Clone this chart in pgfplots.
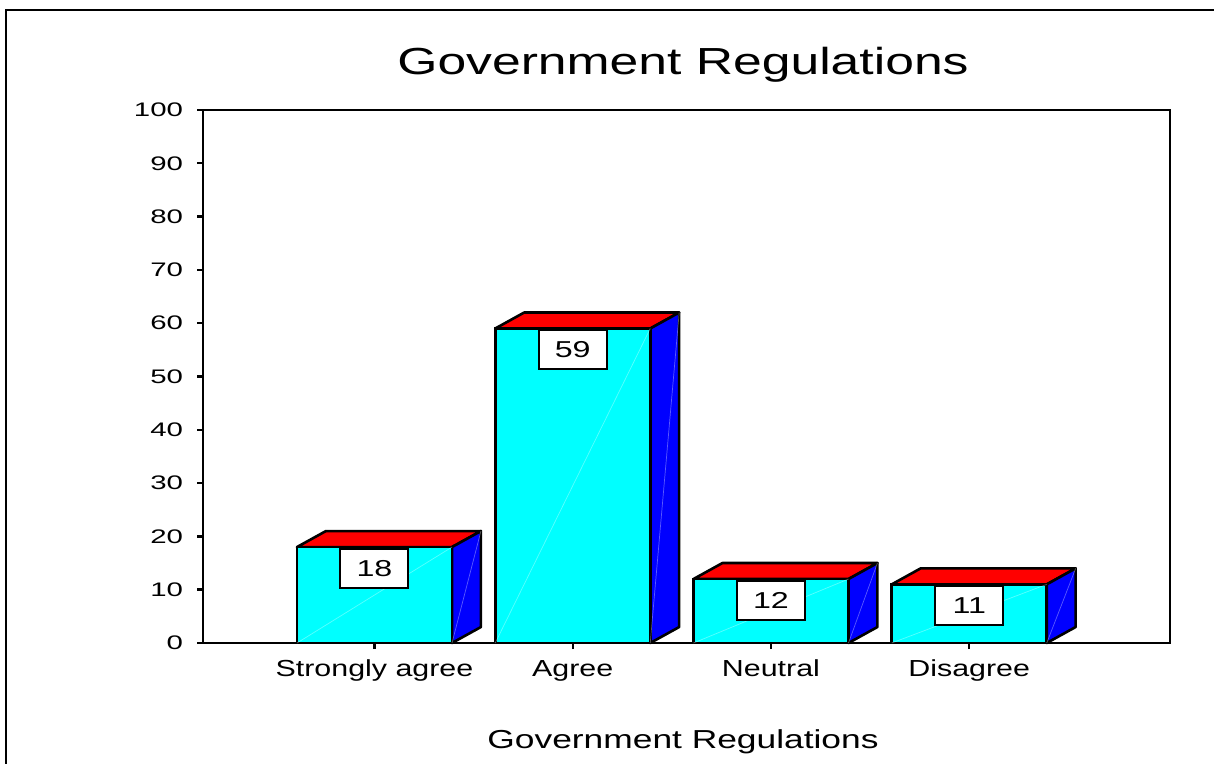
\documentclass[border=0pt]{standalone}
\usepackage{pgfplots}
\pgfplotsset{compat=1.18}
\usepackage{fontspec}
\setmainfont{Liberation Sans}
\definecolor{cyanf}{RGB}{0,255,255}
\definecolor{redf}{RGB}{255,0,0}
\definecolor{bluef}{RGB}{0,0,255}
\begin{document}
\begin{tikzpicture}[x=0.5bp,y=0.5bp]
\useasboundingbox (0,0) rectangle (1214,763);
\draw[line width=1bp] (6,-5) -- (6,753) -- (1220,753);
\node[anchor=base, inner sep=0pt, font=\fontsize{18.85bp}{20bp}\selectfont] at (683,688) {\scalebox{1.37}[1]{Government Regulations}};
\node[anchor=base, inner sep=0pt, font=\fontsize{13bp}{15bp}\selectfont] at (683,15) {\scalebox{1.36}[1]{Government Regulations}};
\begin{axis}[
  at={(101.5bp,60bp)}, anchor=south west,
  scale only axis, width=483.5bp, height=266.5bp,
  xmin=-0.865, xmax=4.013, ymin=0, ymax=100,
  axis line style={line width=1.2bp, black},
  tick align=outside, tick pos=left,
  major tick length=3bp,
  tick style={line width=1.2bp, black},
  xtick={0,1,2,3},
  xticklabels={{\scalebox{1.31}[1]{Strongly agree}},{\scalebox{1.31}[1]{Agree}},{\scalebox{1.31}[1]{Neutral}},{\scalebox{1.31}[1]{Disagree}}},
  xticklabel style={font=\fontsize{11.6bp}{13bp}\selectfont, yshift=-2bp},
  ytick={0,10,...,100},
  yticklabel={\scalebox{1.5}[1]{\pgfmathprintnumber[assume math mode=true]{\tick}}},
  yticklabel style={font=\fontsize{9.8bp}{11bp}\selectfont, xshift=-3.5bp},
  clip=false,
]
% top faces
\addplot[fill=redf, draw=black, line width=1.3bp, line join=round] coordinates {(-0.391,18) (-0.245,21) (0.537,21) (0.391,18)} -- cycle;
\addplot[fill=redf, draw=black, line width=1.3bp, line join=round] coordinates {(0.609,59) (0.755,62) (1.537,62) (1.391,59)} -- cycle;
\addplot[fill=redf, draw=black, line width=1.3bp, line join=round] coordinates {(1.609,12) (1.755,15) (2.537,15) (2.391,12)} -- cycle;
\addplot[fill=redf, draw=black, line width=1.3bp, line join=round] coordinates {(2.609,11) (2.755,14) (3.537,14) (3.391,11)} -- cycle;
% side faces
\addplot[fill=bluef, draw=black, line width=1.3bp, line join=round] coordinates {(0.391,0) (0.537,3) (0.537,21) (0.391,18)} -- cycle;
\addplot[fill=bluef, draw=black, line width=1.3bp, line join=round] coordinates {(1.391,0) (1.537,3) (1.537,62) (1.391,59)} -- cycle;
\addplot[fill=bluef, draw=black, line width=1.3bp, line join=round] coordinates {(2.391,0) (2.537,3) (2.537,15) (2.391,12)} -- cycle;
\addplot[fill=bluef, draw=black, line width=1.3bp, line join=round] coordinates {(3.391,0) (3.537,3) (3.537,14) (3.391,11)} -- cycle;
% front faces with value labels
\addplot[ybar, bar width=0.782, bar shift=0pt, fill=cyanf, draw=black, line width=1.3bp,
  nodes near coords={\scalebox{1.4}[1]{\pgfmathprintnumber[assume math mode=true]{\pgfplotspointmeta}}},
  every node near coord/.append style={anchor=north, draw=black, fill=white, line width=1bp,
    minimum width=34bp, minimum height=19.5bp, inner sep=0pt, yshift=-0.3bp,
    font=\fontsize{11.5bp}{13bp}\selectfont, text=black}]
  coordinates {(0,18) (1,59) (2,12) (3,11)};
% faint highlight diagonals
\addplot[white, opacity=0.35, line width=0.35bp] coordinates {(-0.391,0) (0.391,18)};
\addplot[white, opacity=0.35, line width=0.35bp] coordinates {(0.609,0) (1.391,59)};
\addplot[white, opacity=0.35, line width=0.35bp] coordinates {(1.609,0) (2.391,12)};
\addplot[white, opacity=0.35, line width=0.35bp] coordinates {(2.609,0) (3.391,11)};
\addplot[white, opacity=0.35, line width=0.35bp] coordinates {(0.391,0) (0.537,21)};
\addplot[white, opacity=0.35, line width=0.35bp] coordinates {(1.391,0) (1.537,62)};
\addplot[white, opacity=0.35, line width=0.35bp] coordinates {(2.391,0) (2.537,15)};
\addplot[white, opacity=0.35, line width=0.35bp] coordinates {(3.391,0) (3.537,14)};
\end{axis}
\end{tikzpicture}
\end{document}
